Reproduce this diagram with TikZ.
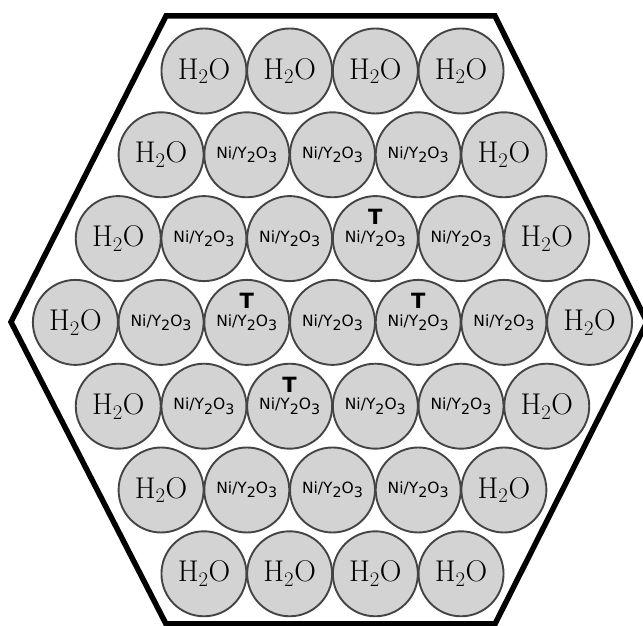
\documentclass[tikz,border=0pt]{standalone}
\usepackage{fontspec}
\usetikzlibrary{positioning}
\newfontfamily\cellsans{DejaVu Sans}
\newcommand{\lowsub}[1]{\raisebox{-.5ex}{\scalebox{.92}{#1}}}
\definecolor{pelletgray}{RGB}{211,211,211}
\definecolor{rimgray}{RGB}{68,68,68}

\begin{document}
\begin{tikzpicture}[x=1pt, y=1pt,
	pellet/.style={circle, draw=rimgray, line width=1.9pt, fill=pelletgray, minimum size=85pt, inner sep=0pt},
	water/.style={pellet, font=\fontsize{30}{32}\selectfont},
	fuel/.style={pellet, font=\cellsans\fontsize{15.5}{17}\selectfont},
	tmark/.style={anchor=base, inner sep=0pt, font=\cellsans\bfseries\fontsize{21}{22}\selectfont},
	hexwall/.style={line width=5.5pt, line join=miter},
	on grid
	]
	\useasboundingbox (0,0) rectangle (643,626);
	\draw[hexwall] (166,610) -- (495,610) -- (647,304) -- (495,2) -- (166,2) -- (11,304) -- cycle;
	
	% top row
	\node[water] (a1) at (203.95,555) {H$_2$O};
	\node[water, right=85.7pt of a1] (a2) {H$_2$O};
	\node[water, right=85.7pt of a2] (a3) {H$_2$O};
	\node[water, right=85.7pt of a3] (a4) {H$_2$O};
	
	\node[water, below left=83.8pt and 42.85pt of a1] (b1) {H$_2$O};
	\node[fuel, right=85.7pt of b1] (b2) {Ni/Y\lowsub{2}O\lowsub{3}};
	\node[fuel, right=85.7pt of b2] (b3) {Ni/Y\lowsub{2}O\lowsub{3}};
	\node[fuel, right=85.7pt of b3] (b4) {Ni/Y\lowsub{2}O\lowsub{3}};
	\node[water, right=85.7pt of b4] (b5) {H$_2$O};
	
	\node[water, below left=83.8pt and 42.85pt of b1] (c1) {H$_2$O};
	\node[fuel, right=85.7pt of c1] (c2) {Ni/Y\lowsub{2}O\lowsub{3}};
	\node[fuel, right=85.7pt of c2] (c3) {Ni/Y\lowsub{2}O\lowsub{3}};
	\node[fuel, right=85.7pt of c3] (c4) {Ni/Y\lowsub{2}O\lowsub{3}};
	\node[fuel, right=85.7pt of c4] (c5) {Ni/Y\lowsub{2}O\lowsub{3}};
	\node[water, right=85.7pt of c5] (c6) {H$_2$O};
	
	% middle row
	\node[water, below left=83.8pt and 42.85pt of c1] (d1) {H$_2$O};
	\node[fuel, right=85.7pt of d1] (d2) {Ni/Y\lowsub{2}O\lowsub{3}};
	\node[fuel, right=85.7pt of d2] (d3) {Ni/Y\lowsub{2}O\lowsub{3}};
	\node[fuel, right=85.7pt of d3] (d4) {Ni/Y\lowsub{2}O\lowsub{3}};
	\node[fuel, right=85.7pt of d4] (d5) {Ni/Y\lowsub{2}O\lowsub{3}};
	\node[fuel, right=85.7pt of d5] (d6) {Ni/Y\lowsub{2}O\lowsub{3}};
	\node[water, right=85.7pt of d6] (d7) {H$_2$O};
	
	\node[water, below right=83.8pt and 42.85pt of d1] (e1) {H$_2$O};
	\node[fuel, right=85.7pt of e1] (e2) {Ni/Y\lowsub{2}O\lowsub{3}};
	\node[fuel, right=85.7pt of e2] (e3) {Ni/Y\lowsub{2}O\lowsub{3}};
	\node[fuel, right=85.7pt of e3] (e4) {Ni/Y\lowsub{2}O\lowsub{3}};
	\node[fuel, right=85.7pt of e4] (e5) {Ni/Y\lowsub{2}O\lowsub{3}};
	\node[water, right=85.7pt of e5] (e6) {H$_2$O};
	
	\node[water, below right=83.8pt and 42.85pt of e1] (f1) {H$_2$O};
	\node[fuel, right=85.7pt of f1] (f2) {Ni/Y\lowsub{2}O\lowsub{3}};
	\node[fuel, right=85.7pt of f2] (f3) {Ni/Y\lowsub{2}O\lowsub{3}};
	\node[fuel, right=85.7pt of f3] (f4) {Ni/Y\lowsub{2}O\lowsub{3}};
	\node[water, right=85.7pt of f4] (f5) {H$_2$O};
	
	% bottom row
	\node[water, below right=83.8pt and 42.85pt of f1] (g1) {H$_2$O};
	\node[water, right=85.7pt of g1] (g2) {H$_2$O};
	\node[water, right=85.7pt of g2] (g3) {H$_2$O};
	\node[water, right=85.7pt of g3] (g4) {H$_2$O};
	
	% thermocouple marks
	\node[tmark] (t1) at ([yshift=14pt]c4.center) {T};
	\node[tmark] (t2) at ([yshift=14pt]d3.center) {T};
	\node[tmark] (t3) at ([yshift=14pt]d5.center) {T};
	\node[tmark] (t4) at ([yshift=14pt]e3.center) {T};
\end{tikzpicture}
\end{document}
